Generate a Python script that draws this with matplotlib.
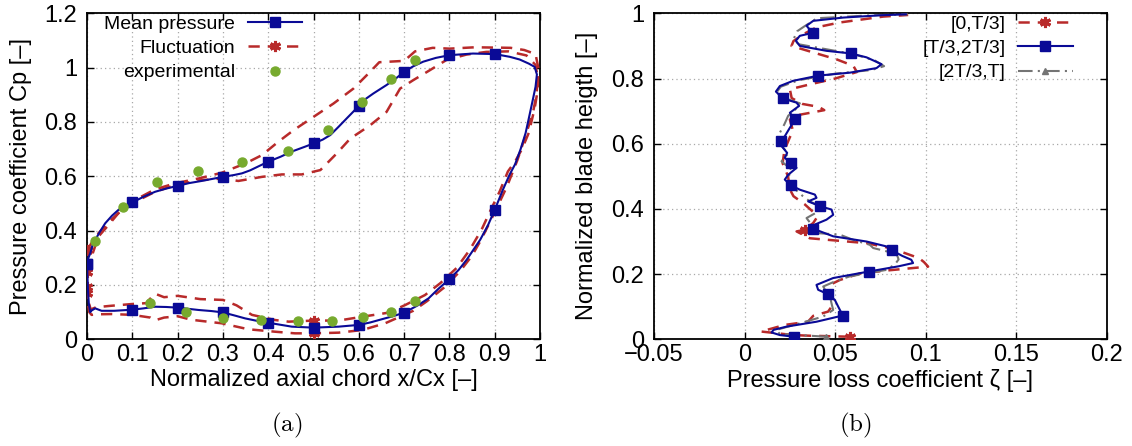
import numpy as np
import matplotlib
matplotlib.use("Agg")
import matplotlib.pyplot as plt
from matplotlib.ticker import MultipleLocator, FuncFormatter

plt.rcParams['font.family'] = ['Liberation Sans', 'DejaVu Sans']
plt.rcParams['mathtext.fontset'] = 'cm'

# ---------------- (a) pressure coefficient around the blade ----------------
# mean pressure, loop: suction side from LE to TE, then pressure side back
mean_x = [0.0, 0.003, 0.007, 0.012, 0.018, 0.028, 0.04, 0.055, 0.069, 0.085,
          0.1, 0.125, 0.15, 0.175, 0.2, 0.225, 0.253, 0.3, 0.325, 0.342,
          0.36, 0.38, 0.4, 0.427, 0.45, 0.481, 0.5, 0.52, 0.537, 0.555,
          0.573, 0.6, 0.615, 0.632, 0.661, 0.68, 0.7, 0.72, 0.742, 0.77,
          0.8, 0.852, 0.9, 0.933, 0.955, 0.975, 0.988, 0.993,
          0.99, 0.984, 0.976, 0.968, 0.957, 0.945, 0.933, 0.918, 0.9, 0.885,
          0.868, 0.853, 0.838, 0.82, 0.8, 0.775, 0.754, 0.73, 0.7, 0.675,
          0.65, 0.625, 0.6, 0.555, 0.5, 0.452, 0.4, 0.375, 0.349, 0.325,
          0.3, 0.275, 0.246, 0.2, 0.175, 0.15, 0.125, 0.1, 0.06, 0.032,
          0.018, 0.01, 0.007, 0.004, 0.002, 0.0]
mean_cp = [0.277, 0.30, 0.316, 0.345, 0.366, 0.395, 0.427, 0.455, 0.476, 0.492,
           0.504, 0.525, 0.543, 0.555, 0.565, 0.575, 0.583, 0.598, 0.605, 0.611,
           0.622, 0.638, 0.654, 0.672, 0.69, 0.709, 0.721, 0.735, 0.752, 0.782,
           0.813, 0.859, 0.885, 0.905, 0.936, 0.958, 0.985, 1.005, 1.022, 1.036,
           1.046, 1.052, 1.05, 1.04, 1.03, 1.015, 1.003, 0.975,
           0.93, 0.882, 0.82, 0.759, 0.70, 0.645, 0.607, 0.551, 0.477, 0.42,
           0.367, 0.33, 0.293, 0.255, 0.222, 0.185, 0.151, 0.125, 0.098, 0.085,
           0.0736, 0.062, 0.053, 0.0466, 0.043, 0.0466, 0.061, 0.068, 0.077, 0.088,
           0.099, 0.104, 0.108, 0.1166, 0.119, 0.12, 0.114, 0.109, 0.105, 0.105,
           0.114, 0.106, 0.10, 0.13, 0.18, 0.277]

# fluctuation envelope, upper bound
fl_hi_x = [0.0, 0.012, 0.025, 0.047, 0.0766, 0.106, 0.15, 0.194, 0.246, 0.297,
           0.349, 0.386, 0.422, 0.456, 0.5, 0.544, 0.588, 0.625, 0.645, 0.7,
           0.724, 0.763, 0.8, 0.856, 0.935, 0.965, 0.99,
           0.996, 0.995, 0.988, 0.975, 0.96, 0.945, 0.929, 0.911, 0.893, 0.871,
           0.845, 0.816, 0.78, 0.746, 0.702, 0.665, 0.607, 0.555, 0.5, 0.445,
           0.415, 0.364, 0.33, 0.3, 0.25, 0.2, 0.17, 0.15, 0.13, 0.1,
           0.05, 0.02, 0.008, 0.003, 0.0]
fl_hi_cp = [0.328, 0.36, 0.39, 0.43, 0.476, 0.513, 0.552, 0.574, 0.592, 0.613,
            0.647, 0.678, 0.727, 0.77, 0.819, 0.868, 0.923, 0.985, 1.02, 1.025,
            1.06, 1.073, 1.07, 1.075, 1.073, 1.065, 1.05,
            1.0, 0.92, 0.85, 0.76, 0.70, 0.655, 0.618, 0.545, 0.483, 0.404,
            0.33, 0.263, 0.207, 0.163, 0.126, 0.098, 0.083, 0.069, 0.069, 0.065,
            0.071, 0.09, 0.125, 0.145, 0.148, 0.16, 0.155, 0.168, 0.133, 0.13,
            0.123, 0.118, 0.11, 0.14, 0.194]

# fluctuation envelope, lower bound
fl_lo_x = [0.0, 0.005, 0.01, 0.025, 0.047, 0.069, 0.099, 0.15, 0.194, 0.246,
           0.297, 0.334, 0.386, 0.43, 0.474, 0.515, 0.551, 0.581, 0.625, 0.661,
           0.691, 0.72, 0.757, 0.793, 0.837, 0.881, 0.93, 0.97, 0.99,
           0.995, 0.992, 0.985, 0.97, 0.95, 0.927, 0.908, 0.89, 0.868, 0.849,
           0.823, 0.787, 0.75, 0.72, 0.7, 0.658, 0.607, 0.555, 0.5, 0.459,
           0.415, 0.356, 0.297, 0.23, 0.2, 0.17, 0.15, 0.14, 0.1, 0.054,
           0.02, 0.01, 0.005, 0.002, 0.0]
fl_lo_cp = [0.249, 0.28, 0.304, 0.378, 0.42, 0.464, 0.5, 0.543, 0.567, 0.585,
            0.592, 0.583, 0.598, 0.607, 0.607, 0.623, 0.684, 0.739, 0.788, 0.837,
            0.923, 0.954, 0.991, 1.028, 1.048, 1.058, 1.06, 1.045, 1.01,
            0.96, 0.9, 0.84, 0.76, 0.66, 0.563, 0.496, 0.434, 0.361, 0.306,
            0.25, 0.189, 0.14, 0.105, 0.09, 0.059, 0.034, 0.0245, 0.022, 0.022,
            0.028, 0.037, 0.059, 0.072, 0.085, 0.08, 0.07, 0.08, 0.09, 0.093,
            0.092, 0.09, 0.1, 0.13, 0.17]

# experimental data
exp_x = [0.018, 0.079, 0.154, 0.246, 0.343, 0.443, 0.532, 0.607, 0.671, 0.725,
         0.139, 0.219, 0.3, 0.383, 0.465, 0.54, 0.609, 0.67, 0.723]
exp_cp = [0.363, 0.488, 0.58, 0.621, 0.651, 0.694, 0.77, 0.873, 0.96, 1.027,
          0.135, 0.099, 0.08, 0.071, 0.0675, 0.0687, 0.083, 0.099, 0.142]

# ---------------- (b) pressure loss along blade height ----------------
h_p2 = [0.008, 0.013, 0.021, 0.029, 0.039, 0.054, 0.073, 0.100, 0.121, 0.139,
        0.152, 0.167, 0.188, 0.208, 0.224, 0.234, 0.244, 0.256, 0.273, 0.285,
        0.300, 0.316, 0.339, 0.352, 0.367, 0.382, 0.398, 0.408, 0.423, 0.434,
        0.444, 0.459, 0.473, 0.490, 0.505, 0.526, 0.540, 0.557, 0.572, 0.593,
        0.608, 0.623, 0.649, 0.675, 0.695, 0.716, 0.726, 0.739, 0.760, 0.777,
        0.793, 0.809, 0.818, 0.832, 0.844, 0.865, 0.877, 0.885, 0.900, 0.916,
        0.931, 0.940, 0.962, 0.977, 0.987, 0.994, 0.997]
zeta_p2 = [0.0272, 0.0195, 0.0149, 0.016, 0.0232, 0.0397, 0.0542, 0.0517, 0.0498, 0.0458,
           0.0406, 0.0397, 0.0489, 0.0686, 0.085, 0.093, 0.092, 0.087, 0.0813, 0.0783,
           0.0673, 0.0489, 0.038, 0.0388, 0.0452, 0.0489, 0.048, 0.0419, 0.0351, 0.0397,
           0.0388, 0.0305, 0.0254, 0.0222, 0.0241, 0.0287, 0.0254, 0.0222, 0.0235, 0.0204,
           0.0199, 0.0222, 0.025, 0.0279, 0.025, 0.0301, 0.0287, 0.0211, 0.0173, 0.0195,
           0.0268, 0.0408, 0.0581, 0.0728, 0.0756, 0.0673, 0.0586, 0.0452, 0.0305, 0.0283,
           0.0305, 0.0375, 0.0342, 0.0379, 0.0544, 0.075, 0.089]
h_p2_marks = [0.008, 0.073, 0.139, 0.208, 0.273, 0.339, 0.408, 0.473, 0.540,
              0.608, 0.675, 0.739, 0.809, 0.877, 0.940]

h_p1 = [0.008, 0.011, 0.013, 0.024, 0.033, 0.044, 0.054, 0.072, 0.085, 0.100,
        0.121, 0.145, 0.167, 0.182, 0.202, 0.211, 0.223, 0.237, 0.249, 0.270,
        0.280, 0.295, 0.302, 0.310, 0.331, 0.336, 0.357, 0.372, 0.390, 0.415,
        0.439, 0.460, 0.500, 0.540, 0.580, 0.620, 0.638, 0.674, 0.689, 0.703,
        0.713, 0.722, 0.740, 0.767, 0.782, 0.800, 0.820, 0.839, 0.859, 0.880,
        0.900, 0.915, 0.936, 0.957, 0.972, 0.990, 0.995]
zeta_p1 = [0.058, 0.036, 0.027, 0.009, 0.015, 0.022, 0.035, 0.0379, 0.0461, 0.048,
           0.0489, 0.047, 0.047, 0.0526, 0.0636, 0.0783, 0.1013, 0.099, 0.0963, 0.0857,
           0.0801, 0.0673, 0.0526, 0.036, 0.0287, 0.0333, 0.0379, 0.0397, 0.038, 0.033,
           0.027, 0.025, 0.024, 0.021, 0.022, 0.025, 0.0268, 0.025, 0.0305, 0.044,
           0.041, 0.032, 0.026, 0.025, 0.036, 0.05, 0.062, 0.06, 0.0507, 0.0379,
           0.0259, 0.027, 0.0324, 0.0397, 0.0526, 0.0765, 0.0903]
h_p1_marks = [0.008, 0.336]

h_p3 = [0.008, 0.013, 0.016, 0.029, 0.049, 0.070, 0.090, 0.110, 0.132, 0.147,
        0.162, 0.178, 0.193, 0.213, 0.230, 0.245, 0.264, 0.270, 0.280, 0.290,
        0.305, 0.321, 0.326, 0.335, 0.352, 0.372, 0.390, 0.405, 0.423, 0.440,
        0.460, 0.490, 0.520, 0.546, 0.570, 0.590, 0.614, 0.634, 0.660, 0.686,
        0.705, 0.724, 0.740, 0.760, 0.775, 0.795, 0.815, 0.826, 0.838, 0.855,
        0.875, 0.890, 0.905, 0.920, 0.945, 0.960, 0.985, 0.994, 0.997]
zeta_p3 = [0.0452, 0.030, 0.0195, 0.0176, 0.0305, 0.0434, 0.0489, 0.048, 0.0471, 0.045,
           0.0434, 0.05, 0.058, 0.0783, 0.083, 0.085, 0.0838, 0.0783, 0.071, 0.0691,
           0.06, 0.0526, 0.0397, 0.037, 0.0369, 0.0342, 0.04, 0.043, 0.036, 0.032,
           0.028, 0.0235, 0.026, 0.0204, 0.024, 0.021, 0.0191, 0.0195, 0.022, 0.0241,
           0.028, 0.0305, 0.022, 0.018, 0.02, 0.03, 0.05, 0.07, 0.077, 0.072,
           0.06, 0.045, 0.03, 0.027, 0.029, 0.033, 0.04, 0.07, 0.09]
h_p3_marks = [0.008]

BLUE = '#0a0a96'
RED = '#b82a2a'
GREY = '#747474'
GREEN = '#77aa2e'
FS = 17      # ticks and axis labels
FS_LEG = 14

fig = plt.figure(figsize=(11.32, 4.46), dpi=100)
ax1 = fig.add_axes([0.0769, 0.2392, 0.4002, 0.7309])
ax2 = fig.add_axes([0.5777, 0.2392, 0.4002, 0.7309])

fmt = FuncFormatter(lambda v, p: '{:g}'.format(round(v, 6)).replace('-', '\u2212'))


def style_axes(ax):
    ax.tick_params(direction='in', which='both', top=True, right=True,
                   length=5.3, width=1.0, labelsize=FS)
    ax.tick_params(axis='x', pad=3.5)
    ax.tick_params(axis='y', pad=7)
    for s in ax.spines.values():
        s.set_linewidth(1.3)
    ax.grid(True, color='#a8a8a8', linestyle=(0, (1, 2.5)), linewidth=0.9)
    ax.set_axisbelow(True)
    ax.xaxis.set_major_formatter(fmt)
    ax.yaxis.set_major_formatter(fmt)


def gnuplot_legend(ax, right):
    leg = ax.legend(loc='upper right', bbox_to_anchor=(right, 0.995), frameon=False,
                    markerfirst=False, fontsize=FS_LEG, handlelength=2.8,
                    handletextpad=0.65, labelspacing=0.35, borderpad=0,
                    borderaxespad=0, numpoints=1)
    for col in leg._legend_handle_box.get_children():
        col.align = 'right'
    return leg


# ---- panel (a)
mx = np.array(mean_x)
mark_mean = np.isclose(mx * 10, np.round(mx * 10)) & (mx < 0.95)
ax1.plot(mean_x, mean_cp, color=BLUE, lw=1.5, marker='s', ms=7,
         markevery=list(np.where(mark_mean)[0]), label='Mean pressure', zorder=4)

for fx, fcp, lab in [(fl_hi_x, fl_hi_cp, 'Fluctuation'), (fl_lo_x, fl_lo_cp, None)]:
    fxa = np.array(fx)
    half = int(np.argmax(fxa))
    mid = half + int(np.argmin(np.abs(fxa[half:] - 0.5)))
    ax1.plot(fx, fcp, color=RED, lw=1.8, dashes=(4.5, 3.2), marker=(6, 2, 0),
             ms=8, mew=2.2, markevery=[0, mid, len(fx) - 1], label=lab, zorder=3)

ax1.plot(exp_x, exp_cp, linestyle='none', marker='o', ms=6.5, color=GREEN,
         label='experimental', zorder=5)

ax1.set_xlim(0, 1)
ax1.set_ylim(0, 1.2)
ax1.xaxis.set_major_locator(MultipleLocator(0.1))
ax1.yaxis.set_major_locator(MultipleLocator(0.2))
style_axes(ax1)
ax1.set_xlabel('Normalized axial chord x/Cx [\u2013]', fontsize=FS)
ax1.set_ylabel('Pressure coefficient Cp [\u2013]', fontsize=FS)
ax1.xaxis.set_label_coords(0.5, -0.091)
ax1.yaxis.set_label_coords(-0.121, 0.5)
gnuplot_legend(ax1, 0.4746)

# ---- panel (b)
hp1 = np.array(h_p1)
hp2 = np.array(h_p2)
hp3 = np.array(h_p3)
ax2.plot(zeta_p1, h_p1, color=RED, lw=1.8, dashes=(4.5, 3.2), marker=(6, 2, 0),
         ms=8, mew=2.2, markevery=list(np.where(np.isin(hp1, h_p1_marks))[0]),
         label='[0,T/3]', zorder=3)
ax2.plot(zeta_p2, h_p2, color=BLUE, lw=1.5, marker='s', ms=7,
         markevery=list(np.where(np.isin(hp2, h_p2_marks))[0]),
         label='[T/3,2T/3]', zorder=5)
ax2.plot(zeta_p3, h_p3, color=GREY, lw=1.5, dashes=(7, 2.5, 1, 2.5), marker='^',
         ms=5, markevery=list(np.where(np.isin(hp3, h_p3_marks))[0]),
         label='[2T/3,T]', zorder=4)

ax2.set_xlim(-0.05, 0.2)
ax2.set_ylim(0, 1)
ax2.xaxis.set_major_locator(MultipleLocator(0.05))
ax2.yaxis.set_major_locator(MultipleLocator(0.2))
style_axes(ax2)
ax2.set_xlabel('Pressure loss coefficient \u03b6 [\u2013]', fontsize=FS)
ax2.set_ylabel('Normalized blade heigth [\u2013]', fontsize=FS)
ax2.xaxis.set_label_coords(0.5, -0.091)
ax2.yaxis.set_label_coords(-0.1225, 0.5)
gnuplot_legend(ax2, 0.924)

fig.text(287 / 1132, 1 - 425 / 446, r'$\mathrm{(a)}$', fontsize=18,
         ha='center', va='center')
fig.text(855 / 1132, 1 - 425 / 446, r'$\mathrm{(b)}$', fontsize=18,
         ha='center', va='center')

fig.savefig('out.png', dpi=100)
